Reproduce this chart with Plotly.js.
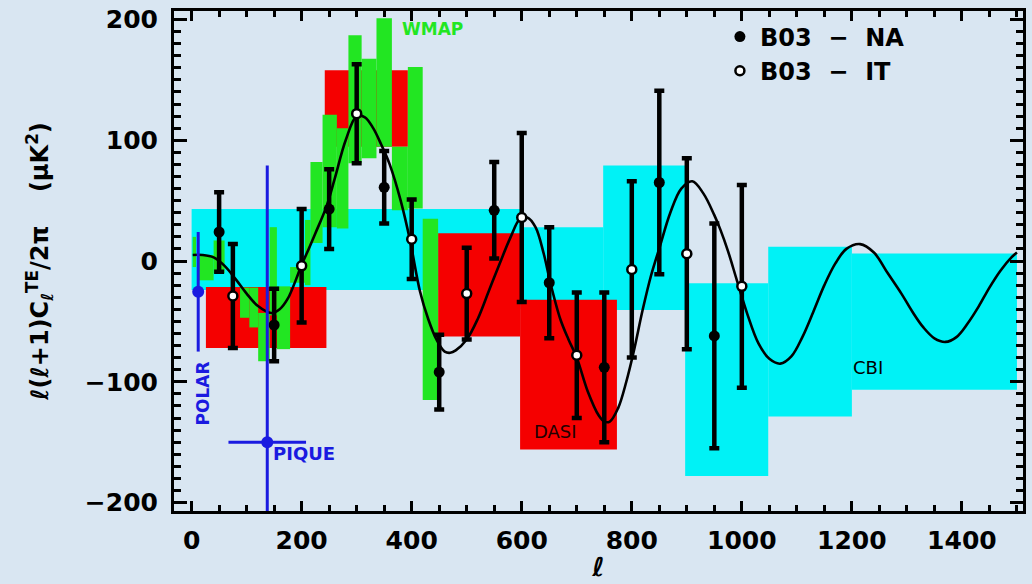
<!DOCTYPE html>
<html>
<head>
<meta charset="utf-8">
<script src="https://cdn.plot.ly/plotly-3.0.1.min.js"></script>
<style>
html,body{margin:0;padding:0;background:#d9e6f2;}
#chart{width:1032px;height:584px;}
</style>
</head>
<body>
<div id="chart"></div>
<script>
// ---------- theory curve (TE) ----------
const curveL = [2,20,40,60,80,100,120,145,160,175,190,200,210,225,245,260,280,300,315,330,345,360,380,397,415,430,445,460,470,480,500,520,540,560,580,597,610,625,640,652,670,685,700,720,740,750,760,775,790,803,820,835,851,870,890,910,930,950,961,975,991,1010,1030,1050,1070,1090,1110,1130,1150,1170,1190,1215,1240,1265,1290,1310,1330,1350,1370,1390,1410,1430,1450,1470,1490,1500];
const curveTE = [5,5,3,-4,-15,-27,-37,-43,-40,-31,-15,-3,7,23,45,68,100,120,119,110,96,80,50,17,-25,-48,-65,-75,-76,-74,-65,-48,-25,-2,20,35,36,28,6,-18,-48,-65,-80,-108,-128,-133,-133,-122,-100,-76,-40,-12,12,40,60,66,56,38,26,8,-16,-44,-68,-81,-85,-79,-63,-42,-20,-2,10,14,7,-10,-27,-42,-55,-64,-67,-63,-52,-38,-22,-8,3,7];

// ---------- B03 data ----------
const naL = [50,150,250,350,450,550,650,750,850,950];
const naTE = [24,-53,43,61,-92,42,-18,-88,65,-62];
const naErr = [33,30,33,30,31,40,46,62,76,93];

const itL = [75,200,300,400,500,600,700,800,900,1000];
const itTE = [-29,-4,122,18,-27,36,-78,-7,6,-21];
const itErr = [43,47,41,33,38,70,52,73,79,84];

// ---------- band powers (bin low, bin high, value low, value high) ----------
const cbiLo = [0,597,748,897,1048,1200];
const cbiHi = [597,748,897,1048,1200,1500];
const cbiMin = [-24,-40,-40.5,-178,-128.7,-106.6];
const cbiMax = [43,28,79,-18.5,11.8,6.3];

const dasiLo = [26,242,448,597];
const dasiHi = [245,393,597,773];
const dasiMin = [-72,94.5,-62.5,-156];
const dasiMax = [-21.5,158,23,-32];

const wmapLo = [2,12,40,88,105,121,142,155,179,206,216,238,264,285,309,336,364,393,420];
const wmapHi = [8,40,60,105,121,142,155,179,206,216,238,264,285,309,336,364,393,420,448];
const wmapMin = [-5,-16,-10,-47,-55,-83,-45,-73,-18,-20,15,28,27,81,85,94.5,42,43.5,-115];
const wmapMax = [20,5,17,-22,-22,-43,28,-21,-5,34,82,121,110,187,167.5,201,94.5,160.6,35];

// ---------- other experiments ----------
const polarL = [12], polarTE = [-25.5], polarErr = [49.5];
const piqueL = [137.5], piqueTE = [-150], piqueErr = [229], piqueLErr = [70.5];

// ---------- tick labels ----------
const xTicks = [0,200,400,600,800,1000,1200,1400];
const yTicks = [-200,-100,0,100,200];

function boxes(lo, hi, mn, mx, color){
  return {
    type:'bar', x: lo.map((v,i)=>(v+hi[i])/2), width: lo.map((v,i)=>hi[i]-v),
    base: mn, y: mn.map((v,i)=>mx[i]-v),
    marker:{color:color, line:{width:0}}, opacity:1,
    hoverinfo:'skip', showlegend:false
  };
}

const traces = [
  boxes(cbiLo,cbiHi,cbiMin,cbiMax,'#00f2f6'),
  boxes(dasiLo,dasiHi,dasiMin,dasiMax,'#f50000'),
  boxes(wmapLo,wmapHi,wmapMin,wmapMax,'#22e622'),
  {type:'scatter', mode:'lines', x:curveL, y:curveTE, line:{color:'black', width:2.6, shape:'spline', smoothing:1}, hoverinfo:'skip', showlegend:false},
  {type:'scatter', mode:'markers', name:'B03  \u2212  NA', x:naL, y:naTE,
   error_y:{type:'data', array:naErr, color:'black', thickness:4.5, width:5},
   marker:{color:'black', size:11, symbol:'circle'}},
  {type:'scatter', mode:'markers', name:'B03  \u2212  IT', x:itL, y:itTE,
   error_y:{type:'data', array:itErr, color:'black', thickness:4.5, width:5},
   marker:{color:'white', size:9, symbol:'circle', line:{color:'black', width:2.5}}},
  {type:'scatter', mode:'markers', x:polarL, y:polarTE,
   error_y:{type:'data', array:polarErr, color:'#1a1ae0', thickness:3, width:0},
   marker:{color:'#1a1ae0', size:12}, showlegend:false, hoverinfo:'skip'},
  {type:'scatter', mode:'markers', x:piqueL, y:piqueTE,
   error_y:{type:'data', array:piqueErr, color:'#1a1ae0', thickness:3, width:0},
   error_x:{type:'data', array:piqueLErr, color:'#1a1ae0', thickness:3, width:0},
   marker:{color:'#1a1ae0', size:12}, showlegend:false, hoverinfo:'skip'}
];

const tickFont = {family:'DejaVu Sans', size:25, color:'black', weight:'bold'};

const layout = {
  width:1032, height:584,
  paper_bgcolor:'#d9e6f2', plot_bgcolor:'#d9e6f2',
  margin:{l:174, r:9, t:11, b:73},
  barmode:'overlay',
  showlegend:true,
  legend:{x:0.643, y:0.993, xanchor:'left', yanchor:'top', bgcolor:'rgba(0,0,0,0)',
          font:{family:'DejaVu Sans', size:24, color:'black', weight:'bold'}, itemwidth:30, tracegroupgap:0},
  xaxis:{range:[-32,1511], tickvals:xTicks, ticktext:xTicks.map(String), ticks:'inside', ticklen:10, tickwidth:3, tickcolor:'black',
         showline:true, linecolor:'black', linewidth:3, mirror:'ticks', showgrid:false, zeroline:false,
         tickfont:tickFont, ticklabelstandoff:5,
         minor:{dtick:50, ticks:'inside', ticklen:6, tickwidth:3, tickcolor:'black', showgrid:false},
         title:{text:'\u2113', font:{family:'DejaVu Sans', size:26, color:'black', weight:'bold'}, standoff:4}},
  yaxis:{range:[-207,207], tickvals:yTicks, ticktext:yTicks.map(v=>v<0?'\u2212'+Math.abs(v):String(v)), ticks:'inside', ticklen:13, tickwidth:3, tickcolor:'black',
         showline:true, linecolor:'black', linewidth:3, mirror:'ticks', showgrid:false, zeroline:false,
         tickfont:tickFont, ticklabelstandoff:8,
         minor:{dtick:10, ticks:'inside', ticklen:7, tickwidth:3, tickcolor:'black', showgrid:false},
         title:{text:'\u2113(\u2113+1)C<sub>\u2113</sub><sup>TE</sup>/2\u03c0    (\u03bcK<sup>2</sup>)', font:{family:'DejaVu Sans', size:24, color:'black', weight:'bold'}, standoff:30}},
  annotations:[
    {x:379, y:192, xref:'x', yref:'y', text:'WMAP', showarrow:false, font:{family:'DejaVu Sans', size:17, color:'#22e622', weight:'bold'}, xanchor:'left'},
    {x:662, y:-141, xref:'x', yref:'y', text:'DASI', showarrow:false, font:{family:'DejaVu Sans', size:18, color:'#220000'}},
    {x:1230, y:-88, xref:'x', yref:'y', text:'CBI', showarrow:false, font:{family:'DejaVu Sans', size:18, color:'black'}},
    {x:20, y:-110, xref:'x', yref:'y', text:'POLAR', textangle:-90, showarrow:false, font:{family:'DejaVu Sans', size:17, color:'#1a1ae0', weight:'bold'}},
    {x:144, y:-159, xref:'x', yref:'y', text:'PIQUE', showarrow:false, xanchor:'left', font:{family:'DejaVu Sans', size:18, color:'#1a1ae0', weight:'bold'}}
  ]
};

Plotly.newPlot('chart', traces, layout, {displayModeBar:false, staticPlot:true});
</script>
</body>
</html>
